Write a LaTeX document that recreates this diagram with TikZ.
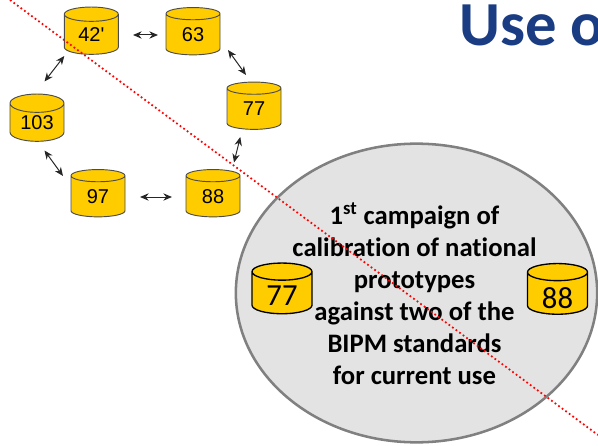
\documentclass[tikz,border=0pt]{standalone}
\usepackage{fontspec}
\setmainfont[Ligatures=NoCommon]{Carlito}
\newfontfamily\arialf{Liberation Sans}
\usetikzlibrary{shapes.geometric,arrows.meta}
\definecolor{cylfill}{HTML}{FFCC00}
\definecolor{titleblue}{HTML}{1A3C82}
\definecolor{bubble}{HTML}{E3E3E3}
\definecolor{bubbleline}{HTML}{808080}
\tikzset{
  basecyl/.style={cylinder, shape border rotate=90, cylinder uses custom fill,
    cylinder body fill=cylfill, cylinder end fill=cylfill, inner sep=0pt, outer sep=0pt},
  smallcyl/.style={basecyl, draw=black!70, line width=0.7pt, minimum width=40.5pt, minimum height=35.5pt,
    shape aspect=0.55, font=\arialf\fontsize{15}{17}\selectfont},
  bigcyl/.style={basecyl, draw=black, line width=1pt, minimum width=45pt, minimum height=38pt,
    shape aspect=0.55, font=\fontsize{23}{26}\selectfont},
  link/.style={{Stealth[length=6.5pt,width=5.5pt]}-{Stealth[length=6.5pt,width=5.5pt]}, line width=0.75pt, draw=black!85},
  bubblestyle/.style={ellipse, draw=bubbleline, fill=bubble, line width=1.9pt, inner sep=0pt,
    minimum width=271pt, minimum height=224pt},
  maintext/.style={align=center, font=\bfseries\fontsize{20}{24}\selectfont, inner sep=0pt},
  titletext/.style={anchor=base west, text=titleblue, font=\bfseries\fontsize{47}{50}\selectfont, inner sep=0pt},
  redline/.style={draw=red, line width=1.3pt, dotted}
}
\begin{document}
\begin{tikzpicture}[x=0.75pt,y=-0.75pt]
\useasboundingbox (0,0) rectangle (598,445);
\node[titletext] (title) at (459,46) {Use o};
\node[bubblestyle] (bub) at (416.5,293) {};
\node[smallcyl] (c42) at (91.3,34.5) {42'};
\node[smallcyl] (c63) at (193,34.5) {63};
\node[smallcyl] (c77) at (254,109) {77};
\node[smallcyl] (c103) at (37,122.5) {103};
\node[smallcyl] (c97) at (98,196.5) {97};
\node[smallcyl] (c88) at (213,196.5) {88};
\node[bigcyl] (b77) at (282,293) {\raisebox{-9pt}[0pt][0pt]{77}};
\node[bigcyl] (b88) at (557.5,293.5) {\raisebox{-11.5pt}[0pt][0pt]{88}};
\node[maintext] (txt) at (414.5,293.5) {1\textsuperscript{st} campaign of\\calibration of national\\prototypes\\against two of the\\BIPM standards\\for current use};
\draw[link] ([shift={(41.7,0.5)}]c42.center) -- ([shift={(-35,0.5)}]c63.center);
\draw[link] ([shift={(35,15.5)}]c63.center) -- ([shift={(-8,-34)}]c77.center);
\draw[link] ([shift={(-13.7,28)}]c77.center) -- ([shift={(21,-34)}]c88.center);
\draw[link] ([shift={(-41,0.5)}]c88.center) -- ([shift={(42,0.5)}]c97.center);
\draw[link] ([shift={(-35,-20.5)}]c97.center) -- ([shift={(7.5,28)}]c103.center);
\draw[link] ([shift={(7.5,-41)}]c103.center) -- ([shift={(-27,21.5)}]c42.center);
\coordinate (ra) at (10,0);
\coordinate (rb) at (598,435);
\draw[redline] (ra) -- (rb);
\end{tikzpicture}
\end{document}
